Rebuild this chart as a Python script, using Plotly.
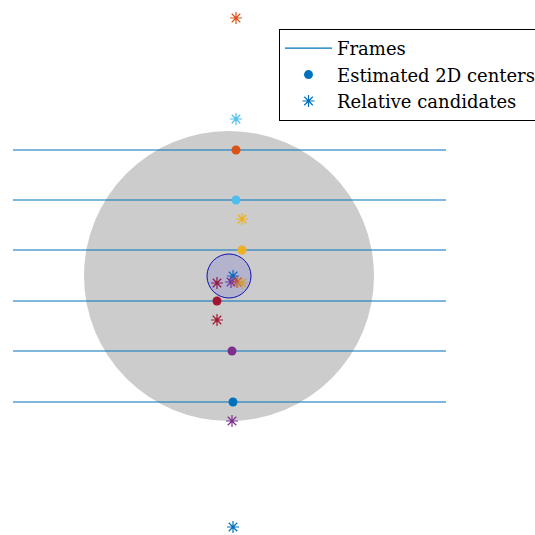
import plotly.graph_objects as go

# Coordinates in picture units (x to the right, y upward)
W = 535
frame_y = [133, 184, 234, 285, 335, 385]          # frame lines (upward y)
frame_x0, frame_x1 = 13, 446

center_x = [233, 232, 217, 242, 236, 236]          # estimated 2D centers
center_y = [133, 184, 234, 285, 335, 385]
center_col = ["#0072BD", "#7E2F8E", "#A2142F", "#EDB120", "#4DBEEE", "#D95319"]

cand_x = [233, 232, 217, 242, 236, 236, 233, 231, 217, 237, 242]
cand_y = [8, 114, 215, 316, 416, 517, 259, 253, 252, 253, 252]
cand_col = ["#0072BD", "#7E2F8E", "#A2142F", "#EDB120", "#4DBEEE", "#D95319",
            "#0072BD", "#7E2F8E", "#A2142F", "#D95319", "#EDB120"]

big_cx, big_cy, big_r = 229, 259, 145
small_cx, small_cy, small_r = 229, 259, 22

fig = go.Figure()

fig.add_shape(type="circle", xref="x", yref="y",
              x0=big_cx - big_r, x1=big_cx + big_r, y0=big_cy - big_r, y1=big_cy + big_r,
              fillcolor="#CCCCCC", line=dict(width=0), layer="below")

lx, ly = [], []
for y in frame_y:
    lx += [frame_x0, frame_x1, None]
    ly += [y, y, None]
fig.add_trace(go.Scatter(x=lx, y=ly, mode="lines", name="Frames",
                         line=dict(color="#0072BD", width=1.2)))

fig.add_shape(type="circle", xref="x", yref="y",
              x0=small_cx - small_r, x1=small_cx + small_r,
              y0=small_cy - small_r, y1=small_cy + small_r,
              fillcolor="rgba(60,60,220,0.17)", line=dict(color="#1010B0", width=1),
              layer="above")

fig.add_trace(go.Scatter(x=center_x, y=center_y, mode="markers",
                         name="Estimated 2D centers",
                         marker=dict(symbol="circle", size=9, color=center_col,
                                     line=dict(width=0))))

fig.add_trace(go.Scatter(x=cand_x, y=cand_y, mode="markers",
                         name="Relative candidates",
                         marker=dict(symbol="asterisk-open", size=10, color=cand_col,
                                     line=dict(width=1.2, color=cand_col))))

fig.update_xaxes(range=[0, W], visible=False, fixedrange=True)
fig.update_yaxes(range=[0, W], visible=False, fixedrange=True)
fig.update_layout(
    width=W, height=W, margin=dict(l=0, r=0, t=0, b=0, autoexpand=False),
    plot_bgcolor="white", paper_bgcolor="white",
    showlegend=True,
    legend=dict(x=279 / W, y=1 - 29 / W, xanchor="left", yanchor="top",
                bgcolor="white", bordercolor="black", borderwidth=1,
                font=dict(family="DejaVu Serif", size=18, color="black"),
                itemwidth=47, tracegroupgap=0),
)

fig.write_html("out.html", config={"displayModeBar": False},
               post_script="document.body.style.margin='0px';")
